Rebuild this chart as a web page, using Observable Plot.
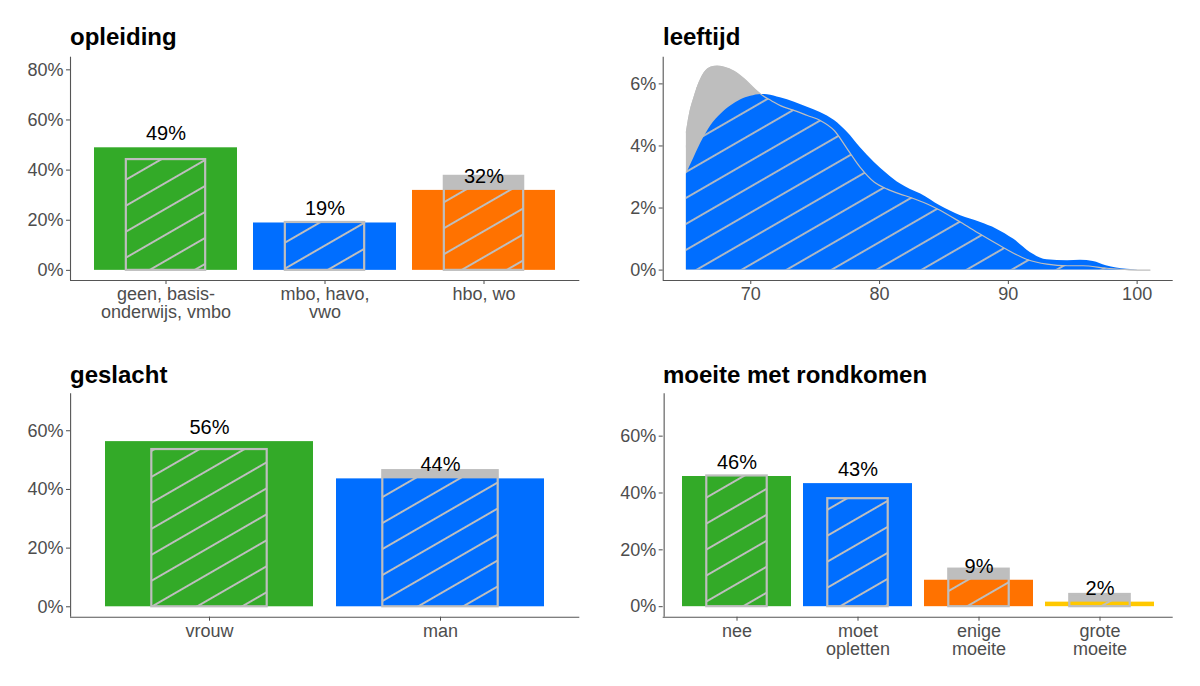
<!DOCTYPE html>
<html><head><meta charset="utf-8">
<script src="https://cdn.jsdelivr.net/npm/d3@7"></script>
<script src="https://cdn.jsdelivr.net/npm/@observablehq/plot@0.6"></script>
<style>
body{margin:0;background:#fff;}
#root{position:relative;width:1200px;height:686px;overflow:hidden;font-family:"Liberation Sans",Arial,sans-serif;background:#fff;}
.title{position:absolute;font-size:24px;line-height:24px;font-weight:bold;color:#000;white-space:nowrap;}
.panel{position:absolute;}
.panel svg{overflow:visible;}
</style></head><body><div id="root"></div>
<script>
// ---------- DATA ----------
const opleidingCats = ["geen, basis-\nonderwijs, vmbo", "mbo, havo,\nvwo", "hbo, wo"];
const opleidingSample = [48.9, 18.9, 31.9];
const opleidingPop = [44.2, 19.1, 37.5];

const geslachtCats = ["vrouw", "man"];
const geslachtSample = [56.3, 43.6];
const geslachtPop = [53.6, 46.4];

const moeiteCats = ["nee", "moet\nopletten", "enige\nmoeite", "grote\nmoeite"];
const moeiteSample = [45.8, 43.3, 9.3, 1.6];
const moeitePop = [46.0, 38.0, 13.2, 4.3];

const pctTicksA = [0, 20, 40, 60, 80];
const pctTicksB = [0, 20, 40, 60];
const ageTicks = [70, 80, 90, 100];
const densTicks = [0, 2, 4, 6];

// leeftijd: population density (grey) and sample density (blue), in %
const popAge  = [65.0, 65.3, 65.6, 66.0, 66.4, 66.9, 67.4, 67.9, 68.7, 69.5, 70.3, 71.0, 71.6, 72.3, 73.4, 74.4, 75.4, 76.5, 77.5, 78.5, 79.6, 80.6, 81.6, 82.4, 83.7, 84.5, 86.3, 87.8, 89.6, 91.4, 93.0, 94.6, 95.8, 97.6, 99.4, 101.0];
const popDens = [4.44, 5.14, 5.57, 6.05, 6.37, 6.54, 6.57, 6.54, 6.41, 6.16, 5.84, 5.60, 5.46, 5.30, 5.14, 4.98, 4.82, 4.49, 3.90, 3.31, 2.83, 2.61, 2.45, 2.34, 2.13, 1.97, 1.54, 1.16, 0.73, 0.35, 0.19, 0.14, 0.14, 0.06, 0.01, 0.0];
const smpAge  = [65.0, 65.6, 66.3, 66.9, 67.7, 68.5, 69.2, 70.0, 70.8, 71.3, 72.3, 73.4, 74.4, 75.4, 76.5, 77.5, 78.5, 79.6, 80.6, 81.6, 82.4, 83.2, 84.7, 86.3, 87.8, 89.1, 90.4, 91.7, 93.0, 94.6, 95.6, 96.6, 97.6, 99.2, 101.0];
const smpDens = [3.09, 3.63, 4.23, 4.65, 5.03, 5.30, 5.48, 5.60, 5.66, 5.65, 5.55, 5.41, 5.25, 5.08, 4.82, 4.44, 3.95, 3.47, 3.10, 2.78, 2.60, 2.45, 2.07, 1.75, 1.54, 1.32, 1.00, 0.57, 0.33, 0.30, 0.32, 0.28, 0.14, 0.03, 0.0];

// ---------- STYLE ----------
const GREEN = "#33AA28", BLUE = "#006EFF", ORANGE = "#FF7200", YELLOW = "#FFC800", GRAY = "#BEBEBE", AXIS = "#555555";
const FONT = '"Liberation Sans", Arial, sans-serif';
const AXIS_FONT = "18px";
const HATCH_SPACING = 22.5;
const hatchPhaseOpl = [24, 43, 18], hatchPhaseGes = [1, 36], hatchPhaseMoe = [37, 13, 19, 32], hatchPhaseAge = 11;

const root = document.getElementById("root");

function addTitle(text, left, top) {
  const d = document.createElement("div");
  d.className = "title"; d.textContent = text;
  d.style.left = left + "px"; d.style.top = top + "px";
  root.appendChild(d);
}

function makeHatch(defs, id, px, py, sw) {
  const p = defs.append("pattern").attr("id", id)
    .attr("patternUnits", "userSpaceOnUse")
    .attr("width", 20).attr("height", HATCH_SPACING)
    .attr("patternTransform", `translate(${px},${py}) rotate(-30)`);
  [0, HATCH_SPACING].forEach(yy => p.append("line")
    .attr("x1", -1).attr("x2", 21).attr("y1", yy).attr("y2", yy)
    .attr("stroke", GRAY).attr("stroke-width", sw));
}

function place(svg, left, top) {
  const d = document.createElement("div");
  d.className = "panel"; d.style.left = left + "px"; d.style.top = top + "px";
  d.appendChild(svg); root.appendChild(d);
}

function barPanel(o) {
  const {id, cats, sample, pop, colors, yDomain, yTicks, phases, left, top, height, mL, mR, mT, mB} = o;
  const data = cats.map((c, i) => ({cat: c, sample: sample[i], pop: pop[i], color: colors[i], label: Math.round(sample[i]) + "%", i}));
  const W = 600;
  const n = cats.length;
  const step = (W - mL - mR) / (n - 0.1 + 0.3);
  const inset = 0.2 * step;
  const defsMark = (index, scales) => {
    const defs = d3.create("svg:defs");
    data.forEach((d, i) => {
      const x0 = (scales && scales.x ? scales.x(d.cat) : mL + step * (0.15 + i)) + inset;
      const y0 = scales && scales.y ? scales.y(0) : 0;
      makeHatch(defs, `${id}-h${i}`, x0 + phases[i], y0, 2);
    });
    return defs.node();
  };
  const svg = Plot.plot({
    width: W, height, marginLeft: mL, marginRight: mR, marginTop: mT, marginBottom: mB,
    style: {fontFamily: FONT, fontSize: AXIS_FONT, color: "#4D4D4D", background: "transparent"},
    x: {domain: cats, paddingInner: 0.1, paddingOuter: 0.15, align: 0.5, tickSize: 4, tickPadding: 3, label: null},
    y: {domain: yDomain, ticks: yTicks, tickFormat: d => d + "%", tickSize: 4, tickPadding: 3, label: null},
    color: {type: "identity"},
    marks: [
      defsMark,
      Plot.barY(data, {x: "cat", y: "pop", fill: GRAY, insetLeft: inset, insetRight: inset}),
      Plot.barY(data, {x: "cat", y: "sample", fill: "color"}),
      ...data.map((d, i) => Plot.barY(data, {x: "cat", y: "pop", filter: e => e.i === i, fill: `url(#${id}-h${i})`, stroke: GRAY, strokeWidth: 2.2, insetLeft: inset, insetRight: inset})),
      Plot.text(data, {x: "cat", y: "sample", text: "label", dy: -7.5, lineAnchor: "bottom", fill: "#000", fontSize: 20}),
      Plot.ruleY([yDomain[0]], {stroke: AXIS, strokeWidth: 1.1}),
      Plot.ruleX([cats[0]], {dx: -0.6 * step, stroke: AXIS, strokeWidth: 1.1})
    ]
  });
  place(svg, left, top);
}

// opleiding
addTitle("opleiding", 70, 24.7);
barPanel({id: "opl", cats: opleidingCats, sample: opleidingSample, pop: opleidingPop, colors: [GREEN, BLUE, ORANGE],
  yDomain: [-4.05, 85.05], yTicks: pctTicksA, phases: hatchPhaseOpl, left: 0, top: 50, height: 290, mL: 70, mR: 20.7, mT: 6.7, mB: 60});

// geslacht
addTitle("geslacht", 70, 362.5);
barPanel({id: "ges", cats: geslachtCats, sample: geslachtSample, pop: geslachtPop, colors: [GREEN, BLUE],
  yDomain: [-3.55, 72.6], yTicks: pctTicksB, phases: hatchPhaseGes, left: 0, top: 386, height: 300, mL: 70, mR: 20.7, mT: 7.3, mB: 69.3});

// moeite met rondkomen
addTitle("moeite met rondkomen", 663, 362.5);
barPanel({id: "moe", cats: moeiteCats, sample: moeiteSample, pop: moeitePop, colors: [GREEN, BLUE, ORANGE, YELLOW],
  yDomain: [-3.7, 74.9], yTicks: pctTicksB, phases: hatchPhaseMoe, left: 600, top: 386, height: 300, mL: 62.7, mR: 27.3, mT: 7.3, mB: 69.3});

// leeftijd
addTitle("leeftijd", 663, 24.7);
(function () {
  const popData = popAge.map((a, i) => ({age: a, dens: popDens[i]}));
  const smpData = smpAge.map((a, i) => ({age: a, dens: smpDens[i]}));
  const xDom = [63.2, 102.8], yDom = [-0.335, 6.86];
  const defsMark = (index, scales) => {
    const defs = d3.create("svg:defs");
    makeHatch(defs, "age-h", scales.x(popAge[0]) + hatchPhaseAge, scales.y(0), 1.8);
    return defs.node();
  };
  const svg = Plot.plot({
    width: 600, height: 290, marginLeft: 62.7, marginRight: 27.3, marginTop: 6.7, marginBottom: 60,
    style: {fontFamily: FONT, fontSize: AXIS_FONT, color: "#4D4D4D", background: "transparent"},
    x: {domain: xDom, ticks: ageTicks, tickSize: 4, tickPadding: 3, label: null},
    y: {domain: yDom, ticks: densTicks, tickFormat: d => d + "%", tickSize: 4, tickPadding: 3, label: null},
    marks: [
      defsMark,
      Plot.areaY(popData, {x: "age", y: "dens", fill: GRAY, curve: "monotone-x"}),
      Plot.areaY(smpData, {x: "age", y: "dens", fill: BLUE, curve: "monotone-x"}),
      Plot.areaY(popData, {x: "age", y: "dens", fill: "url(#age-h)", curve: "monotone-x"}),
      Plot.lineY(popData, {x: "age", y: "dens", stroke: GRAY, strokeWidth: 1.2, curve: "monotone-x"}),
      Plot.ruleY([yDom[0]], {stroke: AXIS, strokeWidth: 1.1}),
      Plot.ruleX([xDom[0]], {stroke: AXIS, strokeWidth: 1.1})
    ]
  });
  place(svg, 600, 50);
})();
</script>
</body></html>
